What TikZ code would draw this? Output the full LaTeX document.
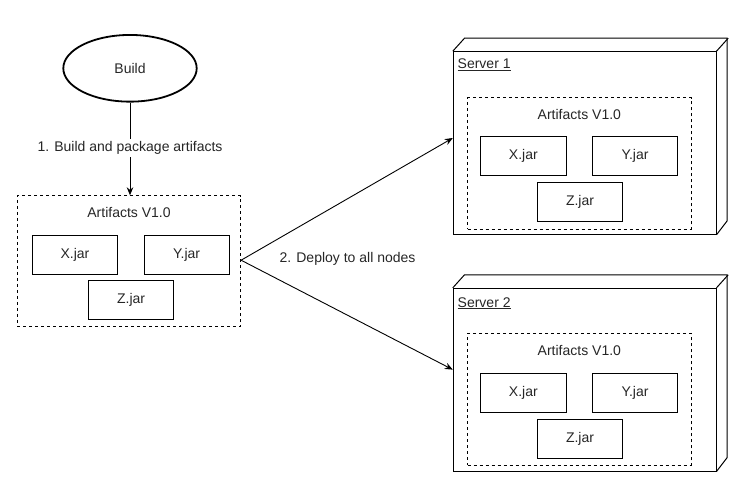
\documentclass[tikz,border=0pt]{standalone}
\usepackage{fontspec}
\setmainfont{Liberation Sans}
\usetikzlibrary{arrows.meta,calc,shapes.geometric}
\begin{document}
\begin{tikzpicture}[x=1pt,y=-1pt,
  font=\fontsize{14}{16}\selectfont,
  every node/.style={text=black!85},
  jar/.style={draw=black, line width=0.8pt, minimum width=85.3pt, minimum height=39pt, inner sep=0pt},
  grp/.style={draw=black, line width=0.8pt, dash pattern=on 3pt off 3pt, minimum width=223.4pt, minimum height=131pt, inner sep=0pt},
  srv/.style={draw=black, line width=1pt, minimum width=262.7pt, minimum height=182.6pt, inner sep=0pt},
  lbl/.style={inner sep=1pt},
  arr/.style={draw, line width=0.9pt, -{Stealth[length=8pt,width=6.5pt]}}
]
\useasboundingbox (0,0) rectangle (756,490);

% Build
\node[draw=black, ellipse, line width=1.8pt, minimum width=133.4pt, minimum height=66.7pt, inner sep=0pt] (e) at (130,68.3) {Build};

% Left artifacts
\node[grp] (g0) at (129,261.2) {};
\node[lbl] (t0) at (129,212.3) {Artifacts V1.0};
\node[jar] (x0) at (75,254.5) {X.jar};
\node[jar] (y0) at (186.65,254.5) {Y.jar};
\node[jar] (z0) at (131.15,300.35) {Z.jar};

% Server 1
\node[srv] (s1) at (584.65,143) {};
\draw[line width=1pt] (s1.north west) -- ++(11.7,-13) -- ++(262.7,0) -- ++(0,182.6) -- (s1.south east);
\draw[line width=1pt] (s1.north east) -- ++(11.7,-13);
\node[lbl, anchor=west] (n1) at (456.5,65) {\underline{Server 1}};
\node[grp, minimum width=223.3pt, minimum height=131.3pt] (g1) at (579.35,163.35) {};
\node[lbl] (t1) at (579.35,114.3) {Artifacts V1.0};
\node[jar] (x1) at (523.35,156.2) {X.jar};
\node[jar] (y1) at (635,156.2) {Y.jar};
\node[jar] (z1) at (580,202.2) {Z.jar};

% Server 2
\node[srv, minimum height=182.7pt] (s2) at (584.65,379.65) {};
\draw[line width=1pt] (s2.north west) -- ++(11.7,-13) -- ++(262.7,0) -- ++(0,182.7) -- (s2.south east);
\draw[line width=1pt] (s2.north east) -- ++(11.7,-13);
\node[lbl, anchor=west] (n2) at (456.5,303.3) {\underline{Server 2}};
\node[grp, minimum width=223.3pt, minimum height=131.7pt] (g2) at (579.35,399.15) {};
\node[lbl] (t2) at (579.35,350.7) {Artifacts V1.0};
\node[jar] (x2) at (523.35,392.5) {X.jar};
\node[jar] (y2) at (635,392.5) {Y.jar};
\node[jar] (z2) at (580,438.5) {Z.jar};

% Connectors
\draw[arr] (e.south) -- (e.south |- g0.north) node[pos=0.49, fill=white, inner sep=2pt] (a1) {1. Build and package artifacts};
\coordinate (src) at ([yshift=1pt]g0.east);
\draw[arr] (src) -- ([yshift=5pt]s1.west);
\draw[arr] (src) -- ([yshift=10pt]s2.west);
\node[lbl] (a2) at (347.5,259.3) {2. Deploy to all nodes};
\end{tikzpicture}
\end{document}
